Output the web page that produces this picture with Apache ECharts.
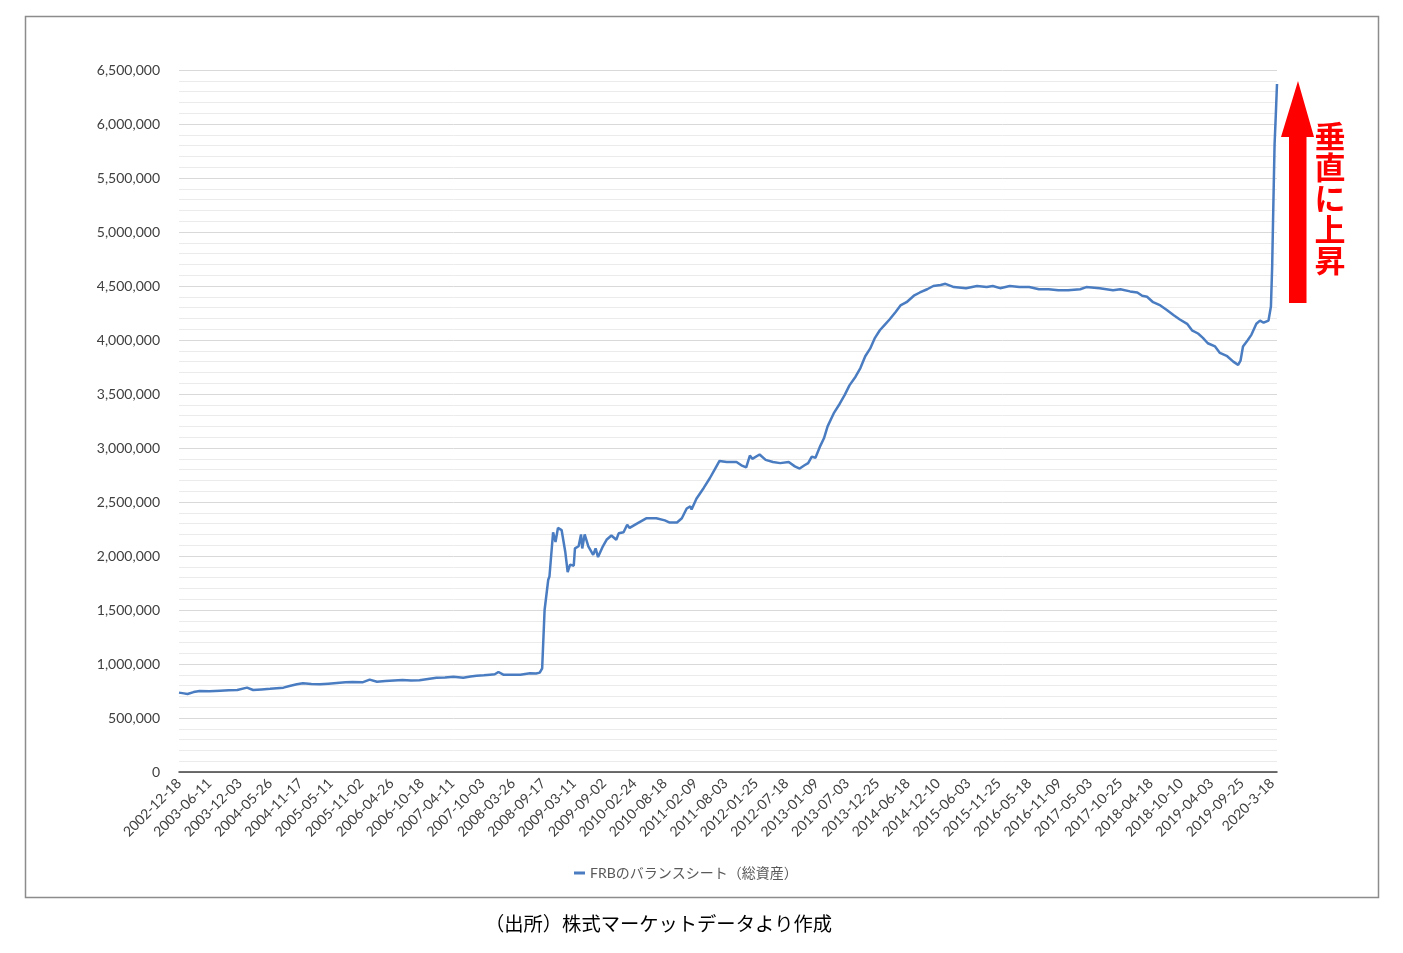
<!DOCTYPE html>
<html>
<head>
<meta charset="utf-8">
<script src="https://cdn.jsdelivr.net/npm/echarts@6/dist/echarts.min.js"></script>
<style>
html,body{margin:0;padding:0;background:#fff;}
#chart{width:1403px;height:953px;}
</style>
</head>
<body>
<div id="chart"></div>
<script>
// Tick labels along the x axis (every 25 weeks)
const xTickLabels = ["2002-12-18","2003-06-11","2003-12-03","2004-05-26","2004-11-17","2005-05-11","2005-11-02","2006-04-26","2006-10-18","2007-04-11","2007-10-03","2008-03-26","2008-09-17","2009-03-11","2009-09-02","2010-02-24","2010-08-18","2011-02-09","2011-08-03","2012-01-25","2012-07-18","2013-01-09","2013-07-03","2013-12-25","2014-06-18","2014-12-10","2015-06-03","2015-11-25","2016-05-18","2016-11-09","2017-05-03","2017-10-25","2018-04-18","2018-10-10","2019-04-03","2019-09-25","2020-3-18"];

// Week index (weeks since 2002-12-18) of each read value
const weekIndex = [0,4,7,12,17,25,34,41,48,56,61,68,75,86,91,97,102,109,116,123,130,137,143,151,157,163,170,177,184,191,198,205,212,219,226,234,240,245,251,256,260,263,267,274,281,289,294,297,299,301,304,305,308,310,312,315,318,320,322,325,326,329,331,332,334,337,341,343,345,349,352,356,360,362,366,369,371,377,385,393,400,404,410,414,418,421,422,426,432,437,441,445,451,459,463,467,470,472,478,483,489,495,502,507,511,515,518,521,524,528,531,534,539,544,548,552,557,561,565,569,573,577,581,585,590,594,599,605,610,616,621,627,631,638,648,657,665,670,676,684,692,700,708,716,724,732,742,747,758,769,775,783,789,793,797,802,808,813,819,824,830,834,839,843,847,853,857,863,868,872,874,876,880,883,887,890,893,897,899,900,901,902,903,904];

// FRB total assets (millions of USD)
const totalAssets = [735000,728000,722000,740000,750000,748000,753000,756000,759000,781000,759000,765000,771000,781000,796000,812000,821000,815000,812000,818000,824000,830000,833000,830000,855000,836000,842000,848000,852000,848000,849000,862000,873000,876000,883000,873000,885000,892000,895000,901000,905000,926000,901000,900000,901000,914000,912000,920000,960000,1500000,1780000,1810000,2220000,2130000,2260000,2240000,2040000,1850000,1920000,1910000,2070000,2090000,2200000,2070000,2200000,2090000,2010000,2070000,1990000,2090000,2150000,2190000,2150000,2210000,2220000,2290000,2260000,2300000,2350000,2350000,2330000,2310000,2310000,2350000,2440000,2460000,2430000,2530000,2630000,2720000,2800000,2880000,2870000,2870000,2840000,2820000,2930000,2900000,2940000,2890000,2870000,2860000,2870000,2830000,2810000,2840000,2860000,2920000,2910000,3020000,3090000,3200000,3320000,3410000,3490000,3580000,3660000,3740000,3850000,3920000,4020000,4090000,4140000,4190000,4260000,4320000,4350000,4410000,4440000,4470000,4500000,4510000,4520000,4490000,4480000,4500000,4490000,4500000,4480000,4500000,4490000,4490000,4470000,4470000,4460000,4460000,4470000,4490000,4480000,4460000,4470000,4450000,4440000,4410000,4400000,4350000,4320000,4280000,4230000,4190000,4150000,4090000,4060000,4020000,3970000,3940000,3880000,3850000,3800000,3770000,3810000,3940000,4000000,4050000,4150000,4180000,4160000,4180000,4310000,4670000,5250000,5810000,6080000,6370000];

const seriesName = "FRBのバランスシート（総資産）";
const sourceNote = "（出所）株式マーケットデータより作成";
const annotation = "垂直に上昇";

const lastWeek = 904;
const chart = echarts.init(document.getElementById('chart'), null, {renderer: 'canvas'});
const labelFont = 'Lato, "Noto Sans CJK JP", sans-serif';

chart.setOption({
  animation: false,
  backgroundColor: '#ffffff',
  grid: {left: 179, right: 126, top: 70, bottom: 181, containLabel: false},
  xAxis: {
    type: 'value',
    min: 0,
    max: lastWeek,
    interval: 25,
    axisLine: {show: true, onZero: false, lineStyle: {color: '#404040', width: 1.5}},
    axisTick: {show: false},
    splitLine: {show: false},
    axisLabel: {
      rotate: 45,
      margin: 9,
      color: '#404040',
      fontSize: 14,
      fontFamily: labelFont,
      showMaxLabel: false,
      formatter: function (v) {
        return (v % 25 === 0 && xTickLabels[v / 25] !== undefined) ? xTickLabels[v / 25] : '';
      }
    }
  },
  yAxis: {
    type: 'value',
    min: 0,
    max: 6500000,
    interval: 500000,
    axisLine: {show: false},
    axisTick: {show: false},
    splitLine: {show: true, lineStyle: {color: '#d9d9d9', width: 1}},
    minorTick: {show: false, splitNumber: 5},
    minorSplitLine: {show: true, lineStyle: {color: '#ebebeb', width: 1}},
    axisLabel: {
      margin: 19,
      color: '#404040',
      fontSize: 14,
      fontFamily: labelFont,
      formatter: function (v) { return v.toLocaleString('en-US'); }
    }
  },
  legend: {
    left: 569,
    top: 861,
    icon: 'rect',
    itemWidth: 11,
    itemHeight: 3,
    itemGap: 10,
    textStyle: {color: '#595959', fontSize: 14, fontFamily: labelFont},
    data: [seriesName]
  },
  series: [{
    name: seriesName,
    type: 'line',
    showSymbol: false,
    symbol: 'none',
    lineStyle: {color: '#4a7cc1', width: 2.5},
    itemStyle: {color: '#4a7cc1'},
    data: weekIndex.map((w, i) => [w, totalAssets[i]])
  }],
  graphic: [
    {
      type: 'rect',
      shape: {x: 25.5, y: 16.5, width: 1353, height: 881},
      style: {fill: 'none', stroke: '#8c8c8c', lineWidth: 1.5},
      silent: true
    },
    {
      type: 'polygon',
      shape: {points: [[1298, 81], [1314, 137], [1306.5, 137], [1306.5, 303], [1289, 303], [1289, 137], [1281, 137]]},
      style: {fill: '#ff0000'},
      silent: true
    },
    {
      type: 'text',
      x: 1330,
      y: 121,
      style: {
        text: annotation.split('').join('\n'),
        fill: '#ff0000',
        fontSize: 31,
        lineHeight: 31,
        fontWeight: 'bold',
        fontFamily: '"Noto Sans CJK JP", sans-serif',
        align: 'center',
        verticalAlign: 'top'
      },
      silent: true
    },
    {
      type: 'text',
      x: 485,
      y: 924,
      style: {
        text: sourceNote,
        fill: '#000000',
        fontSize: 19.3,
        fontFamily: '"Noto Sans CJK JP", sans-serif',
        align: 'left',
        verticalAlign: 'middle'
      },
      silent: true
    }
  ]
});
</script>
</body>
</html>
